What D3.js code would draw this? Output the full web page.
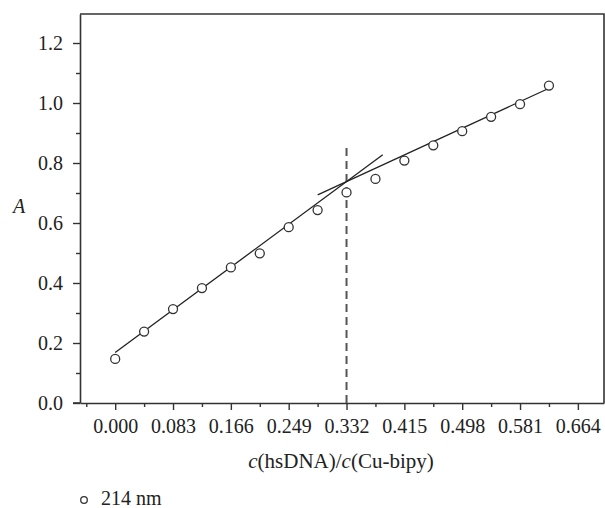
<!DOCTYPE html>
<html>
<head>
<meta charset="utf-8">
<script src="https://cdn.jsdelivr.net/npm/d3@7/dist/d3.min.js"></script>
<style>
  html, body { margin: 0; padding: 0; background: #fff; }
  svg { display: block; }
  text { font-family: "Liberation Serif", "DejaVu Serif", serif; fill: #222; }
</style>
</head>
<body>
<svg id="chart" width="605" height="508"></svg>
<script>
// Absorbance at 214 nm versus concentration ratio
const ratios = [0.000, 0.0415, 0.083, 0.1245, 0.166, 0.2075, 0.249, 0.2905,
                0.332, 0.3735, 0.415, 0.4565, 0.498, 0.5395, 0.581, 0.6225];
const absorbance = [0.147, 0.238, 0.313, 0.383, 0.452, 0.499, 0.586, 0.643,
                    0.702, 0.747, 0.808, 0.859, 0.906, 0.954, 0.996, 1.058];

// Two linear fits meeting near the break point
const fitLow  = { intercept: 0.168, slope: 1.717, from: 0.000,  to: 0.384 };
const fitHigh = { intercept: 0.383, slope: 1.070, from: 0.2906, to: 0.625 };
const breakRatio = 0.332;
const breakTop = 0.853;

const xTicks = [0.000, 0.083, 0.166, 0.249, 0.332, 0.415, 0.498, 0.581, 0.664];
const xMinorTicks = [-0.0415, 0.0415, 0.1245, 0.2075, 0.2905, 0.3735, 0.4565, 0.5395, 0.6225];
const yTicks = [0.0, 0.2, 0.4, 0.6, 0.8, 1.0, 1.2];
const yMinorTicks = [0.1, 0.3, 0.5, 0.7, 0.9, 1.1];

const seriesName = "214 nm";

const svg = d3.select("#chart");
const plotLeft = 80, plotRight = 604, plotTop = 14, plotBottom = 403;

const x = d3.scaleLinear().domain([-0.0505, 0.7015]).range([plotLeft, plotRight]);
const y = d3.scaleLinear().domain([0, 1.2967]).range([plotBottom, plotTop]);

const ink = "#333";

// Frame: top and right edges
svg.append("path")
  .attr("d", `M${plotLeft},${plotTop}H${plotRight}V${plotBottom}`)
  .attr("fill", "none").attr("stroke", ink).attr("stroke-width", 1.6);

// X axis
const gx = svg.append("g").attr("transform", `translate(0,${plotBottom})`);
gx.call(d3.axisBottom(x).tickValues(xTicks).tickFormat(d3.format(".3f")).tickSizeInner(7).tickSizeOuter(0).tickPadding(9));
gx.append("g").call(d3.axisBottom(x).tickValues(xMinorTicks).tickFormat("").tickSizeInner(4).tickSizeOuter(0))
  .select(".domain").remove();
gx.selectAll("line").attr("stroke", ink).attr("stroke-width", 1.4);
gx.select(".domain").attr("stroke", ink).attr("stroke-width", 1.6);
gx.selectAll("text").style("font-size", "20px").attr("fill", "#222");

// Y axis
const gy = svg.append("g").attr("transform", `translate(${plotLeft},0)`);
gy.call(d3.axisLeft(y).tickValues(yTicks).tickFormat(d3.format(".1f")).tickSizeInner(7).tickSizeOuter(0).tickPadding(10));
gy.append("g").call(d3.axisLeft(y).tickValues(yMinorTicks).tickFormat("").tickSizeInner(4).tickSizeOuter(0))
  .select(".domain").remove();
gy.selectAll("line").attr("stroke", ink).attr("stroke-width", 1.4);
gy.select(".domain").attr("stroke", ink).attr("stroke-width", 1.6);
gy.selectAll("text").style("font-size", "20px").attr("fill", "#222");

// Extend the x axis baseline to meet the y tick at zero
svg.append("line").attr("x1", plotLeft - 7).attr("x2", plotLeft)
  .attr("y1", plotBottom).attr("y2", plotBottom).attr("stroke", ink).attr("stroke-width", 1.6);

// Vertical dashed marker at the break point
svg.append("line")
  .attr("x1", x(breakRatio)).attr("x2", x(breakRatio))
  .attr("y1", y(0)).attr("y2", y(breakTop))
  .attr("stroke", "#555").attr("stroke-width", 2)
  .attr("stroke-dasharray", "8,5");

// Fitted lines
const line = d3.line().x(d => x(d[0])).y(d => y(d[1]));
[fitLow, fitHigh].forEach(f => {
  svg.append("path")
    .attr("d", line([[f.from, f.intercept + f.slope * f.from], [f.to, f.intercept + f.slope * f.to]]))
    .attr("fill", "none").attr("stroke", "#222").attr("stroke-width", 1.3);
});

// Data points
svg.append("g").selectAll("circle")
  .data(ratios.map((r, i) => [r, absorbance[i]]))
  .join("circle")
  .attr("cx", d => x(d[0])).attr("cy", d => y(d[1])).attr("r", 4.5)
  .attr("fill", "#fff").attr("stroke", "#333").attr("stroke-width", 1.3);

// Axis titles
svg.append("text").attr("x", 19).attr("y", 213)
  .attr("text-anchor", "middle").style("font-size", "20px").style("font-style", "italic").text("A");

const xt = svg.append("text").attr("x", 341).attr("y", 468)
  .attr("text-anchor", "middle").style("font-size", "21px");
xt.append("tspan").style("font-style", "italic").text("c");
xt.append("tspan").text("(hsDNA)/");
xt.append("tspan").style("font-style", "italic").text("c");
xt.append("tspan").text("(Cu-bipy)");

// Legend
svg.append("circle").attr("cx", 84).attr("cy", 500).attr("r", 3.3)
  .attr("fill", "#fff").attr("stroke", "#333").attr("stroke-width", 1.3);
svg.append("text").attr("x", 101).attr("y", 505).style("font-size", "20px").text(seriesName);
</script>
</body>
</html>
